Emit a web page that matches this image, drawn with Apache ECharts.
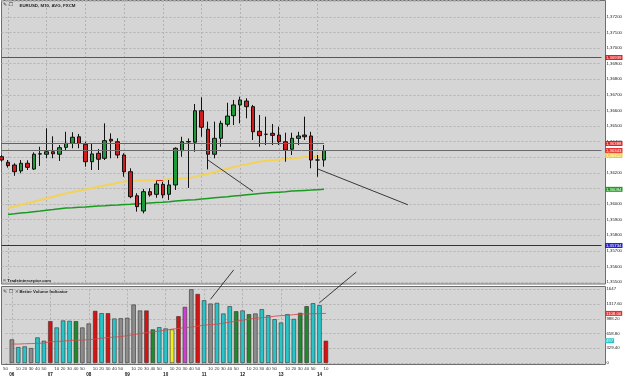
<!DOCTYPE html>
<html><head><meta charset="utf-8">
<script src="https://cdn.jsdelivr.net/npm/echarts@6/dist/echarts.min.js"></script>
<style>html,body{margin:0;padding:0;background:#fff}#c{width:625px;height:380px}</style>
</head><body><div id="c"></div>
<script>
// ---------- data ----------
const times = ['05:50',
 '06:00','06:10','06:20','06:30','06:40','06:50',
 '07:00','07:10','07:20','07:30','07:40','07:50',
 '08:00','08:10','08:20','08:30','08:40','08:50',
 '09:00','09:10','09:20','09:30','09:40','09:50',
 '10:00','10:10','10:20','10:30','10:40','10:50',
 '11:00','11:10','11:20','11:30','11:40','11:50',
 '12:00','12:10','12:20','12:30','12:40','12:50',
 '13:00','13:10','13:20','13:30','13:40','13:50',
 '14:00','14:10'];
// [open, close, low, high]
const ohlc = [
 [1.36303,1.36282,1.36271,1.36314],[1.36267,1.36246,1.36233,1.36282],[1.36250,1.36207,1.36181,1.36261],
 [1.36212,1.36261,1.36197,1.36282],[1.36261,1.36235,1.36218,1.36280],[1.36224,1.36319,1.36218,1.36331],
 [1.36320,1.36322,1.36244,1.36367],[1.36319,1.36335,1.36293,1.36485],[1.36335,1.36322,1.36293,1.36434],
 [1.36319,1.36361,1.36276,1.36378],[1.36363,1.36389,1.36346,1.36463],[1.36389,1.36428,1.36357,1.36460],
 [1.36431,1.36389,1.36357,1.36449],[1.36383,1.36271,1.36239,1.36399],[1.36271,1.36321,1.36218,1.36389],
 [1.36325,1.36287,1.36218,1.36353],[1.36293,1.36406,1.36282,1.36517],[1.36415,1.36404,1.36293,1.36453],
 [1.36399,1.36314,1.36293,1.36421],[1.36314,1.36207,1.36175,1.36325],[1.36207,1.36047,1.36037,1.36229],
 [1.36053,1.35983,1.35951,1.36069],[1.35955,1.36079,1.35940,1.36096],[1.36079,1.36058,1.36047,1.36101],
 [1.36062,1.36128,1.36040,1.36147],[1.36126,1.36058,1.36037,1.36143],[1.36062,1.36122,1.36026,1.36154],
 [1.36122,1.36357,1.36090,1.36363],[1.36342,1.36399,1.36303,1.36431],[1.36398,1.36400,1.36103,1.36420],
 [1.36396,1.36598,1.36335,1.36641],[1.36598,1.36492,1.36431,1.36684],[1.36479,1.36319,1.36222,1.36528],
 [1.36319,1.36421,1.36293,1.36528],[1.36421,1.36517,1.36367,1.36534],[1.36511,1.36564,1.36496,1.36649],
 [1.36566,1.36635,1.36506,1.36667],[1.36635,1.36667,1.36517,1.36688],[1.36660,1.36624,1.36549,1.36678],
 [1.36624,1.36463,1.36410,1.36635],[1.36466,1.36438,1.36367,1.36571],[1.36447,1.36447,1.36378,1.36560],
 [1.36453,1.36440,1.36378,1.36513],[1.36442,1.36399,1.36378,1.36496],[1.36399,1.36346,1.36271,1.36457],
 [1.36351,1.36421,1.36314,1.36457],[1.36421,1.36436,1.36378,1.36463],[1.36442,1.36431,1.36410,1.36560],
 [1.36436,1.36282,1.36229,1.36463],[1.36282,1.36282,1.36175,1.36314],[1.36282,1.36343,1.36239,1.36378]];
const maYellow = [null,
 1.35974,1.35984,1.35995,1.36005,1.36015,1.36026,1.36037,1.36047,1.36058,1.36068,
 1.36077,1.36085,1.36093,1.36101,1.36110,1.36118,1.36126,1.36136,1.36145,1.36148,
 1.36149,1.36151,1.36153,1.36154,1.36156,1.36159,1.36161,1.36163,1.36165,1.36174,
 1.36185,1.36192,1.36205,1.36215,1.36226,1.36237,1.36246,1.36254,1.36263,1.36272,
 1.36276,1.36280,1.36284,1.36288,1.36292,1.36297,1.36301,1.36304,1.36308,1.36312];
const maGreen = [null,
 1.35933,1.35937,1.35942,1.35946,1.35951,1.35955,1.35960,1.35964,1.35969,1.35974,
 1.35976,1.35979,1.35981,1.35984,1.35987,1.35989,1.35992,1.35994,1.35997,1.35999,
 1.36002,1.36004,1.36007,1.36010,1.36012,1.36015,1.36019,1.36022,1.36025,1.36028,
 1.36032,1.36036,1.36040,1.36044,1.36047,1.36051,1.36055,1.36059,1.36063,1.36067,
 1.36070,1.36073,1.36076,1.36079,1.36083,1.36085,1.36087,1.36089,1.36092,1.36094];
const volume = [null,
 527,356,371,334,571,497,935,794,950,942,
 935,794,883,1165,1113,1113,994,1000,1010,1306,
 1173,1173,750,800,772,750,1046,1253,1647,1543,
 1402,1328,1343,1106,1269,1157,1173,1091,1106,1202,
 1068,979,905,1091,986,1120,1269,1336,1291,497];
const volType = ['',
 'gray','cyan','cyan','gray','cyan','cyan','red','cyan','cyan','cyan',
 'green','gray','gray','red','cyan','red','cyan','gray','gray','gray',
 'gray','red','green','cyan','cyan','yellow','red','magenta','gray','red',
 'cyan','gray','cyan','cyan','cyan','green','cyan','green','gray','cyan',
 'cyan','cyan','cyan','cyan','cyan','green','green','cyan','cyan','red'];
const volMA = [null,
 423,423,430,434,438,445,474,479,490,501,
 512,512,523,534,556,568,579,590,612,634,
 657,679,701,712,735,757,772,790,801,824,
 846,857,868,890,913,935,957,979,1002,1013,
 1024,1046,1057,1068,1080,1091,1097,1102,1106,1108];
const lvlTop = 1.36939, lvlRes = 1.36388, lvlLast = 1.36343, lvlBlue = 1.35734, lvlSeg = 1.36151;
const volMax = 1647;
// annotation strokes (data coordinates): [grid, x, y] -> [grid, x, y]
const notes = [
 [[0, 32, 1.36282], [0, 39, 1.36080]],
 [[0, 49, 1.36225], [0, 63, 1.35995]],
 [[1, 32, 1424], [0, 36, 1.35578]],
 [[1, 49, 1348], [0, 55, 1.35564]]
];

// ---------- chart ----------
const FUTURE = 43;
const slots = times.concat(Array.from({length: FUTURE}, (_, i) => 'f' + i));
const FONT = 'Liberation Sans';
const CLEAR = 'rgba(0,0,0,0)';
const volColors = {gray:'#8c8c8c', cyan:'#27c5c8', red:'#d81212', green:'#1f8a2b', yellow:'#f2ee1c', magenta:'#d23ed2'};
const isHour = (i) => { const s = slots[i]; return s && s[0] !== 'f' && s.endsWith(':00'); };
const fmtP = v => v.toFixed(5).replace('.', ',');
const gridL = 1.5, gridW = 604;
const chart = echarts.init(document.getElementById('c'), null, {renderer: 'canvas'});
const splitX = {show: true, interval: (i) => isHour(i), lineStyle: {color: '#b2b2b2', type: [2, 2], width: 1}};
const lblBase = {position: 'end', distance: 3.5, fontSize: 4.3, fontFamily: FONT, color: '#fff', padding: [0.6, 1, 0.4, 1]};
const mkLevel = (v, line, bg, txt) => ({yAxis: v, lineStyle: line, label: Object.assign({}, lblBase, {backgroundColor: bg, color: txt || '#fff', formatter: () => fmtP(v)})});

const option = {
  animation: false,
  backgroundColor: '#ffffff',
  grid: [
    {left: gridL, top: 0, width: gridW, height: 284, show: false},
    {left: gridL, top: 289.3, width: gridW, height: 73.7, show: false}
  ],
  xAxis: [
    {type: 'category', gridIndex: 0, data: slots, boundaryGap: false,
     axisLine: {show: false}, axisTick: {show: false}, axisLabel: {show: false}, splitLine: splitX},
    {type: 'category', gridIndex: 1, data: slots, boundaryGap: false,
     axisLine: {show: false}, axisTick: {show: false}, splitLine: splitX,
     axisLabel: {show: true, interval: 0, margin: 2.5, fontFamily: FONT,
       formatter: (val) => {
         if (val[0] === 'f') return '';
         const [h, m] = val.split(':');
         return m === '00' ? '{m| }\n{h|' + h + '}' : '{m|' + m + '}\n{h| }';
       },
       rich: {m: {fontSize: 4.4, color: '#333', lineHeight: 6, fontFamily: FONT},
              h: {fontSize: 4.6, color: '#111', fontWeight: 'bold', lineHeight: 6, fontFamily: FONT}}}}
  ],
  yAxis: [
    {type: 'value', gridIndex: 0, position: 'right', min: 1.354872, max: 1.373077,
     splitNumber: 18, minInterval: 0.001, maxInterval: 0.001,
     axisLine: {show: false}, axisTick: {show: false},
     axisLabel: {margin: 5, fontSize: 4.3, fontFamily: FONT, color: '#222', showMinLabel: false, showMaxLabel: false,
       formatter: v => (v > 1.3725 || v < 1.3549) ? '' : fmtP(v)},
     splitLine: {show: true, lineStyle: {color: '#b2b2b2', type: [2, 2], width: 1}}},
    {type: 'value', gridIndex: 1, position: 'right', min: 0, max: volMax, interval: volMax / 5,
     axisLine: {show: false}, axisTick: {show: false},
     axisLabel: {margin: 5, fontSize: 4.3, fontFamily: FONT, color: '#222',
       formatter: v => v === 0 ? '0' : (Math.abs(v - volMax) < 0.01 ? String(volMax) : v.toFixed(2))},
     splitLine: {show: true, lineStyle: {color: '#b2b2b2', type: [2, 2], width: 1}}}
  ],
  series: [
    {type: 'line', name: 'green', xAxisIndex: 0, yAxisIndex: 0, data: maGreen, symbol: 'none',
     lineStyle: {color: '#1b9a22', width: 1.5}, z: 2},
    {type: 'line', name: 'yellow', xAxisIndex: 0, yAxisIndex: 0, data: maYellow, symbol: 'none',
     lineStyle: {color: '#f3d25a', width: 2}, z: 2,
     markLine: {symbol: 'none', silent: true, animation: false, precision: 6,
       data: [
         mkLevel(lvlTop, {color: '#e01e1e', width: 1, type: 'solid'}, '#e02020'),
         [{coord: [times[0], lvlRes], lineStyle: {color: '#e62a2a', width: 1, type: 'solid'}, label: {show: false}},
          {coord: [times[times.length - 1], lvlRes]}],
         mkLevel(lvlRes, {color: CLEAR}, '#e02020'),
         mkLevel(lvlLast, {color: '#6a6a6a', width: 1, type: 'solid'}, '#e23434'),
         mkLevel(maYellow[maYellow.length - 1], {color: CLEAR}, '#f3d040', '#fff'),
         mkLevel(maGreen[maGreen.length - 1], {color: CLEAR}, '#1f9a22'),
         mkLevel(lvlBlue, {color: '#1e1ed2', width: 1, type: 'solid'}, '#2424d0'),
         [{coord: [times[24], lvlSeg], lineStyle: {color: '#e01e1e', width: 1, type: 'solid'}, label: {show: false}},
          {coord: [times[25], lvlSeg]}]
       ]}},
    {type: 'candlestick', name: 'EURUSD', xAxisIndex: 0, yAxisIndex: 0, data: ohlc, barWidth: 4, z: 3,
     itemStyle: {color: '#1e9a3a', color0: '#d21c1c', borderColor: '#111', borderColor0: '#111', borderColorDoji: '#111', borderWidth: 1}},
    {type: 'bar', name: 'volume', xAxisIndex: 1, yAxisIndex: 1, barWidth: 4.4, z: 2,
     data: volume.map((v, i) => v == null ? null : {value: v, itemStyle: {color: volColors[volType[i]]}}),
     itemStyle: {borderColor: '#333', borderWidth: 0.6},
     markLine: {symbol: 'none', silent: true, animation: false, precision: 2,
       data: [
         {yAxis: volMA[volMA.length - 1], lineStyle: {color: CLEAR},
          label: Object.assign({}, lblBase, {backgroundColor: '#e03030', formatter: () => volMA[volMA.length - 1].toFixed(2)})},
         {yAxis: volume[volume.length - 1], lineStyle: {color: CLEAR},
          label: Object.assign({}, lblBase, {backgroundColor: '#27c5c8', formatter: () => String(volume[volume.length - 1])})}
       ]}},
    {type: 'line', name: 'volMA', xAxisIndex: 1, yAxisIndex: 1, data: volMA, symbol: 'none', z: 4,
     lineStyle: {color: '#d24a4a', width: 1, opacity: 0.85}}
  ],
  graphic: [
    {type: 'rect', z: -10, silent: true, shape: {x: 1.5, y: 0.5, width: 604, height: 283.5},
     style: {fill: '#d5d5d5', stroke: '#6e6e6e', lineWidth: 1}},
    {type: 'rect', z: -10, silent: true, shape: {x: 1.5, y: 286.5, width: 604, height: 78},
     style: {fill: '#d5d5d5', stroke: '#6e6e6e', lineWidth: 1}},
    {type: 'text', z: 10, left: 3, top: 2.5, style: {text: '✎ ☐', fill: '#333', font: '5px DejaVu Sans'}},
    {type: 'text', z: 10, left: 19.5, top: 3.5, style: {text: 'EURUSD, M10, AVG, FXCM', fill: '#222', font: 'bold 4.4px Liberation Sans'}},
    {type: 'text', z: 10, left: 3, top: 278.5, style: {text: '© Tradeinterceptor.com', fill: '#222', font: 'bold 4.3px Liberation Sans'}},
    {type: 'text', z: 10, left: 3, top: 289, style: {text: '✎ ☐ ×', fill: '#333', font: '5px DejaVu Sans'}},
    {type: 'text', z: 10, left: 19.5, top: 289.5, style: {text: 'Better Volume Indicator', fill: '#222', font: 'bold 4.3px Liberation Sans'}}
  ]
};
chart.setOption(option);

// annotation strokes through the library's coordinate conversion
const toPx = (pt) => chart.convertToPixel({gridIndex: pt[0]}, [pt[1], pt[2]]);
const noteLines = notes.map((n, k) => {
  const a = toPx(n[0]), b = toPx(n[1]);
  return {type: 'line', id: 'note' + k, z: 20, silent: true,
    shape: {x1: a[0], y1: a[1], x2: b[0], y2: b[1]}, style: {stroke: '#111', lineWidth: 0.8}};
});
chart.setOption({graphic: option.graphic.concat(noteLines)});
</script></body></html>
